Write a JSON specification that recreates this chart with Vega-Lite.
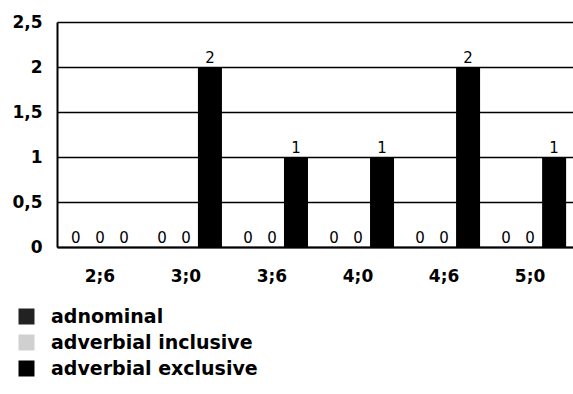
{
  "$schema": "https://vega.github.io/schema/vega-lite/v6.json",
  "width": 516,
  "height": 225,
  "autosize": {"type": "none"},
  "padding": {"left": 57, "top": 22, "right": 0, "bottom": 147},
  "background": "white",
  "data": {
    "values": [
      {"age": "2;6", "series": "adnominal", "value": 0},
      {"age": "2;6", "series": "adverbial inclusive", "value": 0},
      {"age": "2;6", "series": "adverbial exclusive", "value": 0},
      {"age": "3;0", "series": "adnominal", "value": 0},
      {"age": "3;0", "series": "adverbial inclusive", "value": 0},
      {"age": "3;0", "series": "adverbial exclusive", "value": 2},
      {"age": "3;6", "series": "adnominal", "value": 0},
      {"age": "3;6", "series": "adverbial inclusive", "value": 0},
      {"age": "3;6", "series": "adverbial exclusive", "value": 1},
      {"age": "4;0", "series": "adnominal", "value": 0},
      {"age": "4;0", "series": "adverbial inclusive", "value": 0},
      {"age": "4;0", "series": "adverbial exclusive", "value": 1},
      {"age": "4;6", "series": "adnominal", "value": 0},
      {"age": "4;6", "series": "adverbial inclusive", "value": 0},
      {"age": "4;6", "series": "adverbial exclusive", "value": 2},
      {"age": "5;0", "series": "adnominal", "value": 0},
      {"age": "5;0", "series": "adverbial inclusive", "value": 0},
      {"age": "5;0", "series": "adverbial exclusive", "value": 1}
    ]
  },
  "encoding": {
    "x": {
      "field": "age",
      "type": "nominal",
      "sort": null,
      "scale": {"paddingInner": 0.163, "paddingOuter": 0.08},
      "axis": {
        "title": null,
        "labelAngle": 0,
        "labelFont": "DejaVu Sans",
        "labelFontWeight": "bold",
        "labelFontSize": 17,
        "labelColor": "black",
        "labelPadding": 21,
        "ticks": false,
        "domainColor": "black",
        "domainWidth": 2,
        "grid": false
      }
    },
    "xOffset": {
      "field": "series",
      "type": "nominal",
      "sort": ["adnominal", "adverbial inclusive", "adverbial exclusive"],
      "scale": {"paddingInner": 0, "paddingOuter": 0}
    },
    "y": {
      "field": "value",
      "type": "quantitative",
      "scale": {"domain": [0, 2.5]},
      "axis": {
        "title": null,
        "values": [0, 0.5, 1, 1.5, 2, 2.5],
        "labelExpr": "replace(format(datum.value, '~g'), '.', ',')",
        "labelFont": "DejaVu Sans",
        "labelFontWeight": "bold",
        "labelFontSize": 17,
        "labelColor": "black",
        "labelPadding": 15,
        "ticks": false,
        "domainColor": "black",
        "domainWidth": 2,
        "gridColor": "black",
        "gridWidth": 1.5,
        "gridOpacity": 1
      }
    }
  },
  "layer": [
    {
      "mark": {"type": "bar"},
      "encoding": {
        "color": {
          "field": "series",
          "type": "nominal",
          "sort": ["adnominal", "adverbial inclusive", "adverbial exclusive"],
          "scale": {
            "domain": ["adnominal", "adverbial inclusive", "adverbial exclusive"],
            "range": ["#222222", "#d0d0d0", "#000000"]
          },
          "legend": {
            "title": null,
            "orient": "none",
            "legendX": -40,
            "legendY": 285,
            "direction": "vertical",
            "padding": 0,
            "symbolType": "square",
            "symbolSize": 256,
            "symbolStrokeWidth": 0,
            "symbolOpacity": 1,
            "labelFont": "DejaVu Sans",
            "labelFontWeight": "bold",
            "labelFontSize": 19,
            "labelColor": "black",
            "labelOffset": 15,
            "rowPadding": 6,
            "labelLimit": 400
          }
        }
      }
    },
    {
      "mark": {
        "type": "text",
        "baseline": "alphabetic",
        "dy": -4,
        "font": "DejaVu Sans",
        "fontSize": 15,
        "color": "black"
      },
      "encoding": {
        "text": {"field": "value", "type": "quantitative"}
      }
    }
  ],
  "config": {
    "view": {"stroke": null}
  }
}
